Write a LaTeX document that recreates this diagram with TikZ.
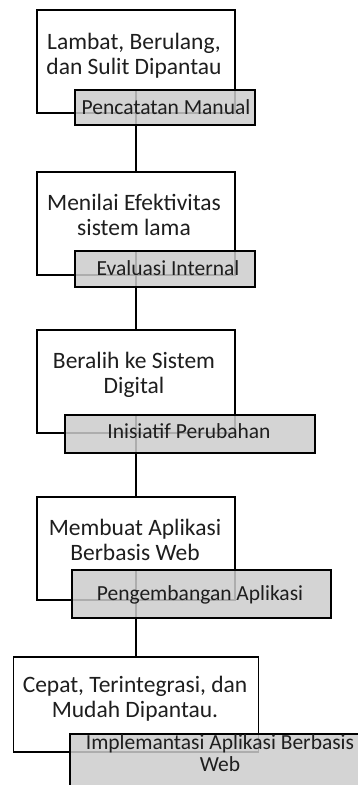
\documentclass[tikz,border=0pt]{standalone}
\usepackage{fontspec}
\setmainfont{Carlito}
\definecolor{boxgrey}{RGB}{204,204,204}
\definecolor{txt}{RGB}{30,30,30}
\tikzset{
  wbox/.style={draw=black, line width=1.8pt, fill=white, inner sep=0pt},
  gbox/.style={draw=black, line width=1.8pt, fill=boxgrey, fill opacity=0.85, draw opacity=1, text opacity=1, inner sep=0pt},
  wtext/.style={align=center, inner sep=0pt, anchor=base, text=txt, font=\fontsize{23.5}{25}\selectfont},
  gtext/.style={align=center, inner sep=0pt, anchor=base, text=txt, font=\fontsize{21.5}{22}\selectfont},
  conn/.style={line width=1.8pt, draw=black}
}
\begin{document}
\begin{tikzpicture}[x=1pt,y=-1pt]
\path[use as bounding box] (0,0) rectangle (358,785);
\clip (0,0) rectangle (358,785);
% white boxes
\node[wbox, minimum width=198pt, minimum height=103pt] (w1) at (136,61.5) {};
\node[wbox, minimum width=198pt, minimum height=103pt] (w2) at (136,223.5) {};
\node[wbox, minimum width=198pt, minimum height=103pt] (w3) at (136,381.5) {};
\node[wbox, minimum width=198pt, minimum height=103pt] (w4) at (136,548.5) {};
\node[wbox, minimum width=245pt, minimum height=95pt] (w5) at (136,704.5) {};
% texts in white boxes (anchor = baseline of last line)
\node[wtext] (t1) at (134,74) {Lambat, Berulang,\\dan Sulit Dipantau};
\node[wtext] (t2) at (134,235) {Menilai Efektivitas\\sistem lama};
\node[wtext] (t3) at (134,393) {Beralih ke Sistem\\Digital};
\node[wtext] (t4) at (135,560) {Membuat Aplikasi\\Berbasis Web};
\node[wtext] (t5) at (135,717) {Cepat, Terintegrasi, dan\\Mudah Dipantau.};
% grey label box geometry
\path (165,107.5) coordinate (g1c) (165,269) coordinate (g2c) (190,434) coordinate (g3c) (201.5,594) coordinate (g4c) (222.5,767) coordinate (g5c);
\node[minimum width=180pt, minimum height=35pt, inner sep=0pt] (g1) at (g1c) {};
\node[minimum width=180pt, minimum height=36pt, inner sep=0pt] (g2) at (g2c) {};
\node[minimum width=250pt, minimum height=38pt, inner sep=0pt] (g3) at (g3c) {};
\node[minimum width=259pt, minimum height=48pt, inner sep=0pt] (g4) at (g4c) {};
\node[minimum width=305pt, minimum height=66pt, inner sep=0pt] (g5) at (g5c) {};
% connectors
\draw[conn] (w2.north |- g1.north) -- (w2.north);
\draw[conn] (w3.north |- g2.north) -- (w3.north);
\draw[conn] (w4.north |- g3.north) -- (w4.north);
\draw[conn] (w5.north |- g4.north) -- (w5.north);
% grey boxes drawn on top
\node[gbox, minimum width=180pt, minimum height=35pt] (G1) at (g1c) {};
\node[gbox, minimum width=180pt, minimum height=36pt] (G2) at (g2c) {};
\node[gbox, minimum width=250pt, minimum height=38pt] (G3) at (g3c) {};
\node[gbox, minimum width=259pt, minimum height=48pt] (G4) at (g4c) {};
\node[gbox, minimum width=305pt, minimum height=66pt] (G5) at (g5c) {};
% grey texts
\node[gtext] (s1) at (166,114) {Pencatatan Manual};
\node[gtext] (s2) at (168,275) {Evaluasi Internal};
\node[gtext] (s3) at (189,438) {Inisiatif Perubahan};
\node[gtext] (s4) at (200,600) {Pengembangan Aplikasi};
\node[gtext] (s5) at (220,771) {Implemantasi Aplikasi Berbasis\\Web};
\end{tikzpicture}
\end{document}
